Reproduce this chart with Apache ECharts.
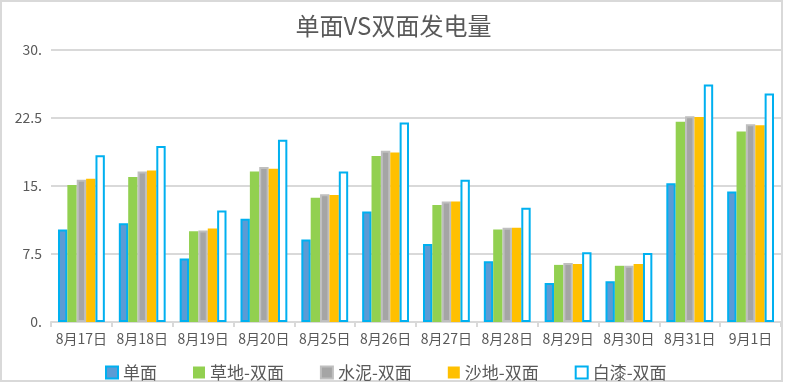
<!DOCTYPE html>
<html>
<head>
<meta charset="utf-8">
<script src="https://cdn.jsdelivr.net/npm/echarts@6/dist/echarts.min.js"></script>
<style>html,body{margin:0;padding:0;background:#fff;}#chart{width:787px;height:388px;}</style>
</head>
<body>
<div id="chart"></div>
<script>
var categories = ['8月17日','8月18日','8月19日','8月20日','8月25日','8月26日','8月27日','8月28日','8月29日','8月30日','8月31日','9月1日'];
var singleFace = [10.2,10.9,7.0,11.4,9.1,12.2,8.6,6.7,4.3,4.5,15.3,14.4];
var grassBi    = [15.1,16.0,10.0,16.6,13.7,18.3,12.9,10.2,6.3,6.2,22.1,21.0];
var cementBi   = [15.7,16.6,10.1,17.1,14.1,18.9,13.3,10.4,6.5,6.2,22.7,21.8];
var sandBi     = [15.8,16.7,10.3,16.9,14.0,18.7,13.3,10.4,6.4,6.4,22.6,21.7];
var whiteBi    = [18.4,19.4,12.3,20.1,16.6,22.0,15.7,12.6,7.7,7.6,26.2,25.2];
var yTicks = {min:0, max:30, interval:7.5};

var font = '"Noto Sans CJK SC", "Noto Sans", sans-serif';
var chart = echarts.init(document.getElementById('chart'), null, {renderer:'canvas'});
function mk(name, data, fill, border, bw){
  return {name:name, type:'bar', data:data, barGap:'0%', barCategoryGap:'23%',
    itemStyle:{color:fill, borderColor:border, borderWidth:bw},
    emphasis:{disabled:true}, animation:false};
}
chart.setOption({
  animation:false,
  textStyle:{fontFamily:font},
  title:{text:'单面VS双面发电量', left:'center', top:9,
    textStyle:{fontFamily:font, fontSize:24, fontWeight:'normal', color:'#595959'}},
  graphic:[{type:'rect', shape:{x:1, y:1, width:781, height:380},
    style:{fill:'none', stroke:'#D9D9D9', lineWidth:2}, silent:true}],
  legend:{bottom:2, left:100, icon:'rect', itemWidth:12, itemHeight:12, itemGap:36,
    textStyle:{fontFamily:font, fontSize:17, color:'#595959'},
    data:['单面','草地-双面','水泥-双面','沙地-双面','白漆-双面']},
  grid:{left:51, right:6, top:50, bottom:66, containLabel:false},
  xAxis:{type:'category', data:categories, boundaryGap:true,
    axisLine:{lineStyle:{color:'#D9D9D9', width:2}},
    axisTick:{show:true, length:5, alignWithLabel:false, lineStyle:{color:'#D9D9D9', width:2}},
    axisLabel:{fontFamily:font, fontSize:14, color:'#595959', margin:10, interval:0}},
  yAxis:{type:'value', min:yTicks.min, max:yTicks.max, interval:yTicks.interval,
    axisLine:{show:false}, axisTick:{show:false},
    splitLine:{lineStyle:{color:'#D9D9D9', width:2}},
    axisLabel:{fontFamily:font, fontSize:14, color:'#595959', margin:9,
      formatter:function(v){return (v%1===0)? v+'.' : String(v);}}},
  series:[
    mk('单面', singleFace, '#5B9BD5', '#00B0F0', 2),
    mk('草地-双面', grassBi, '#92D050', '#92D050', 0),
    mk('水泥-双面', cementBi, '#A5A5A5', '#BFBFBF', 2),
    mk('沙地-双面', sandBi, '#FFC000', '#FFC000', 0),
    mk('白漆-双面', whiteBi, '#FFFFFF', '#00B0F0', 2)
  ]
});
</script>
</body>
</html>
